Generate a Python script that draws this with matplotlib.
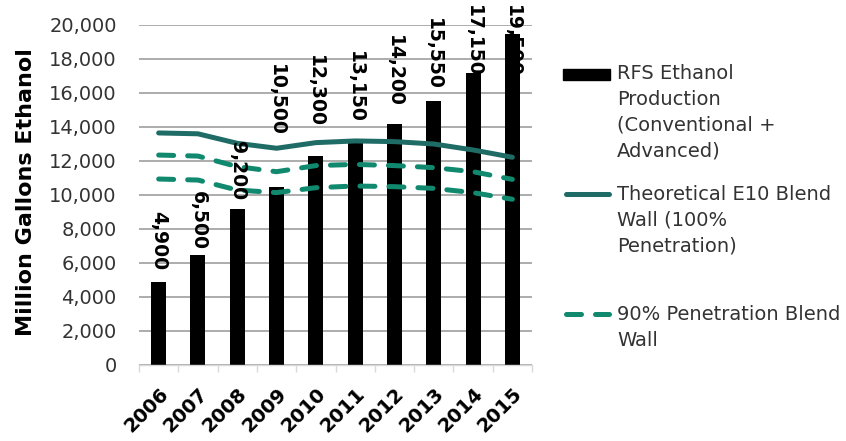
import matplotlib

matplotlib.use("Agg")

import matplotlib.pyplot as plt
from matplotlib.lines import Line2D
from matplotlib.patches import Rectangle

# values
years = ["2006", "2007", "2008", "2009", "2010", "2011", "2012", "2013", "2014", "2015"]
rfs_production = [4900, 6500, 9200, 10500, 12300, 13150, 14200, 15550, 17150, 19500]
blend_wall_100 = [13650, 13600, 13040, 12750, 13080, 13180, 13140, 13000, 12650, 12220]
blend_wall_90_upper = [12350, 12290, 11670, 11370, 11730, 11800, 11730, 11610, 11370, 10920]
blend_wall_90_lower = [10940, 10880, 10290, 10140, 10430, 10530, 10490, 10390, 10140, 9750]
bar_labels = ["4,900", "6,500", "9,200", "10,500", "12,300", "13,150", "14,200", "15,550", "17,150", "19,500"]

# where the (hand-placed) value labels sit: bottom edge of each label, in data units
label_bottom = [5600, 6750, 9700, 13500, 14000, 14250, 15200, 16200, 16950, 16950]

W, H = 846, 441
SOLID = "#1f6b66"
DASHED = "#10896f"
GRID = "#a6a6a6"
TEXT = "#333333"

fig = plt.figure(figsize=(W / 100, H / 100), dpi=100)
ax = fig.add_axes([139 / W, 1 - 365 / H, 393 / W, 340 / H])

x = list(range(len(years)))
ax.bar(x, rfs_production, width=0.38, color="black", zorder=2)

ax.plot(x, blend_wall_100, color=SOLID, lw=3.6, solid_capstyle="round", zorder=3)
for series in (blend_wall_90_upper, blend_wall_90_lower):
    ax.plot(x, series, color=DASHED, lw=3.6, dashes=(3, 2.8),
            dash_capstyle="round", zorder=3)

for xi, lab, yb in zip(x, bar_labels, label_bottom):
    ax.text(xi, yb, lab, rotation=270, ha="center", va="bottom",
            fontsize=13.5, fontweight="bold", color="black", zorder=4, clip_on=False)

ax.set_xlim(-0.5, len(years) - 0.5)
ax.set_ylim(0, 20000)
ax.set_yticks(range(0, 20001, 2000))
ax.set_yticklabels([f"{v:,}" for v in range(0, 20001, 2000)])
ax.yaxis.grid(True, color=GRID, lw=1.3, zorder=1)
ax.set_axisbelow(True)

for side in ("left", "right", "top"):
    ax.spines[side].set_visible(False)
ax.spines["bottom"].set_color("#d9d9d9")
ax.spines["bottom"].set_linewidth(1.0)

ax.tick_params(axis="y", length=0, pad=16, labelsize=14, labelcolor=TEXT)
ax.set_xticks(x)
ax.set_xticklabels(years, rotation=45, ha="right", rotation_mode="anchor",
                   fontsize=14, fontweight="bold", color="black")
ax.tick_params(axis="x", length=0, pad=14)
ax.set_xticks([i - 0.5 for i in range(len(years) + 1)], minor=True)
ax.tick_params(axis="x", which="minor", length=5, color="#d9d9d9", width=1.0)

ax.set_ylabel("Million Gallons Ethanol", fontsize=16, fontweight="bold", color="black")
ax.yaxis.set_label_coords(-0.262, 0.51)

# legend drawn by hand: Excel puts each key level with the first line of its text
fig.add_artist(Rectangle((563 / W, 1 - 80 / H), 47 / W, 11 / H,
                         transform=fig.transFigure, color="black"))
fig.add_artist(Line2D([566 / W, 609 / W], [1 - 194 / H, 1 - 194 / H],
                      transform=fig.transFigure, color=SOLID, lw=3.6,
                      solid_capstyle="round"))
fig.add_artist(Line2D([566 / W, 609 / W], [1 - 314 / H, 1 - 314 / H],
                      transform=fig.transFigure, color=DASHED, lw=3.6,
                      dashes=(3, 2.8), dash_capstyle="round"))

legend_text = [
    (64, "RFS Ethanol\nProduction\n(Conventional +\nAdvanced)"),
    (185, "Theoretical E10 Blend\nWall (100%\nPenetration)"),
    (305, "90% Penetration Blend\nWall"),
]
for top, txt in legend_text:
    fig.text(617 / W, 1 - top / H, txt, ha="left", va="top", fontsize=14,
             color=TEXT, linespacing=1.45)

fig.savefig("out.png", dpi=100)
